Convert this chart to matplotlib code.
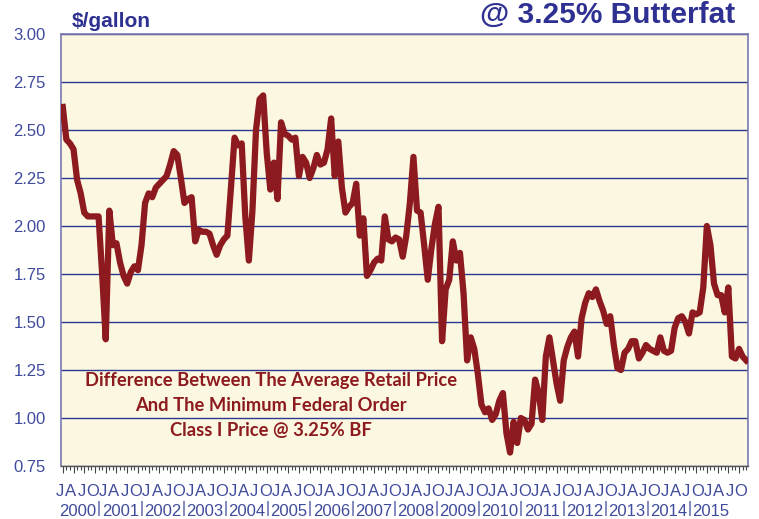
import matplotlib
matplotlib.use('Agg')
import numpy as np
import matplotlib.pyplot as plt

# monthly spread, Jan 2000 .. Dec 2015 ($/gallon)
years = list(range(2000, 2016))
quarter_letters = ['J', 'A', 'J', 'O']
spread = [
    # 2000
    2.62, 2.45, 2.43, 2.40, 2.24, 2.17, 2.07, 2.05, 2.05, 2.05, 2.05, 1.75,
    # 2001
    1.41, 2.08, 1.90, 1.91, 1.81, 1.74, 1.70, 1.76, 1.79, 1.77, 1.90, 2.12,
    # 2002
    2.17, 2.15, 2.20, 2.22, 2.24, 2.26, 2.32, 2.39, 2.37, 2.25, 2.12, 2.14,
    # 2003
    2.15, 1.92, 1.98, 1.97, 1.97, 1.96, 1.90, 1.85, 1.90, 1.93, 1.95, 2.20,
    # 2004
    2.46, 2.42, 2.43, 2.05, 1.82, 2.08, 2.50, 2.66, 2.68, 2.38, 2.19, 2.33,
    # 2005
    2.14, 2.54, 2.48, 2.47, 2.45, 2.46, 2.26, 2.36, 2.33, 2.25, 2.30, 2.37,
    # 2006
    2.32, 2.33, 2.40, 2.56, 2.26, 2.44, 2.20, 2.07, 2.10, 2.12, 2.22, 1.95,
    # 2007
    2.04, 1.74, 1.77, 1.81, 1.83, 1.82, 2.05, 1.93, 1.92, 1.94, 1.93, 1.84,
    # 2008
    1.95, 2.12, 2.36, 2.08, 2.07, 1.90, 1.72, 1.88, 2.01, 2.10, 1.40, 1.67,
    # 2009
    1.72, 1.92, 1.82, 1.86, 1.65, 1.30, 1.42, 1.36, 1.23, 1.07, 1.03, 1.05,
    # 2010
    0.99, 1.02, 1.09, 1.13, 0.92, 0.82, 0.98, 0.87, 1.00, 0.99, 0.94, 0.97,
    # 2011
    1.20, 1.13, 0.99, 1.32, 1.42, 1.30, 1.18, 1.09, 1.30, 1.37, 1.42, 1.45,
    # 2012
    1.32, 1.52, 1.60, 1.65, 1.63, 1.67, 1.61, 1.56, 1.49, 1.53, 1.38, 1.26,
    # 2013
    1.25, 1.34, 1.36, 1.40, 1.40, 1.31, 1.34, 1.38, 1.36, 1.35, 1.34, 1.42,
    # 2014
    1.35, 1.34, 1.35, 1.47, 1.52, 1.53, 1.50, 1.44, 1.55, 1.54, 1.55, 1.68,
    # 2015
    2.00, 1.90, 1.70, 1.64, 1.64, 1.55, 1.68, 1.32, 1.31, 1.36, 1.32, 1.30,
]
y_ticks = [0.75, 1.00, 1.25, 1.50, 1.75, 2.00, 2.25, 2.50, 2.75, 3.00]
note_lines = ['Difference Between The Average Retail Price',
              'And The Minimum Federal Order',
              'Class I Price @ 3.25% BF']

navy = '#2E3192'
label_blue = '#3F4B9C'
wine = '#8C1A1E'

W, H = 759, 519
ax_w = 687
fig = plt.figure(figsize=(W / 100, H / 100), dpi=100)
ax = fig.add_axes([61 / W, 53 / H, ax_w / W, 432 / H])
ax.set_facecolor('#FBF7E0')

months = np.arange(len(spread))
ax.plot(months, spread, color=wine, lw=4.5, solid_joinstyle='round', zorder=3)

ax.set_xlim(-0.5, len(spread) - 0.5)
ax.set_ylim(0.75, 3.0)
ax.set_yticks(y_ticks)
ax.set_yticklabels([f'{v:.2f}' for v in y_ticks])
ax.yaxis.grid(True, color='#2B3990', lw=1.0)
ax.set_axisbelow(True)
ax.tick_params(axis='y', length=0, pad=11, labelsize=12, labelcolor=label_blue)
for t in ax.get_yticklabels():
    t.set_family('Liberation Sans')

# monthly ticks at the bottom
ax.set_xticks(months[::3])
ax.set_xticks(months, minor=True)
ax.set_xticklabels([])
ax.tick_params(axis='x', which='major', length=5, width=0.8, color='#444444', direction='out')
ax.tick_params(axis='x', which='minor', length=3, width=0.8, color='#444444', direction='out')

# category text row under the axis (quarter letters, then years with bars)
letter_step = 10.8 / ax_w
year_step = 42.2 / ax_w
n = 0
for k, yr in enumerate(years):
    for letter in quarter_letters:
        ax.text(-1 / ax_w + n * letter_step, -0.042, letter, transform=ax.transAxes,
                ha='center', va='top', fontsize=12, color=label_blue, family='Liberation Sans')
        n += 1
    yc = 17 / ax_w + k * year_step
    ax.text(yc, -0.088, str(yr), transform=ax.transAxes, ha='center', va='top',
            fontsize=12, color=label_blue, family='Liberation Sans')
    if k > 0:
        ax.text(yc - year_step / 2, -0.0995, '|', transform=ax.transAxes, ha='center',
                va='center', fontsize=11.5, color=label_blue, family='Liberation Sans')

for side in ['left', 'top', 'right']:
    ax.spines[side].set_color('#7A7AB0')
    ax.spines[side].set_linewidth(1.2)
ax.spines['bottom'].set_color('#555555')
ax.spines['bottom'].set_linewidth(1.0)

# annotation
for j, line in enumerate(note_lines):
    ax.text(58.2, 1.193 - j * 0.128, line, ha='center', va='center', fontsize=13.2,
            fontweight='bold', color=wine, family='Lato', zorder=4)

fig.text(72 / W, 1 - 27 / H, '$/gallon', ha='left', va='baseline', fontsize=15,
         fontweight='bold', color=navy, family='Liberation Sans')
fig.text(735 / W, 1 - 23 / H, '@ 3.25% Butterfat', ha='right', va='baseline', fontsize=21.5,
         fontweight='bold', color=navy, family='Liberation Sans')

fig.savefig('out.png', dpi=100, facecolor='white')
